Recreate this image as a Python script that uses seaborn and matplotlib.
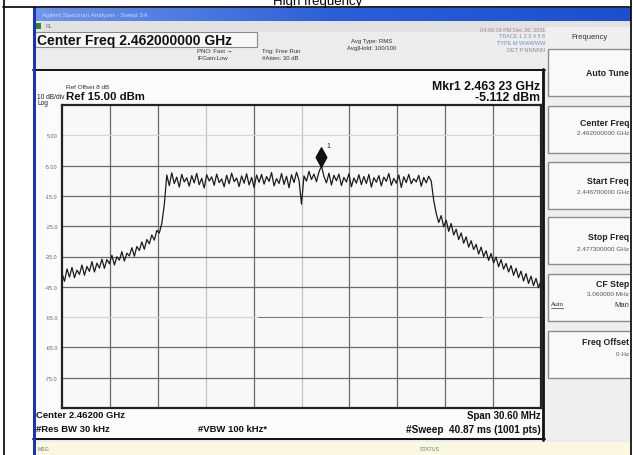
import numpy as np
import pandas as pd
import matplotlib
matplotlib.use("Agg")
import matplotlib.pyplot as plt
import matplotlib.transforms as mtransforms
from matplotlib.patches import Rectangle
from matplotlib.path import Path
import seaborn as sns

# ---- analyzer settings -------------------------------------------------
center_ghz = 2.462
span_mhz = 30.6
ref_dbm = 15.0
db_per_div = 10.0

# ---- trace (dBm), swept from start to stop frequency ---------------------
left_skirt = [
    -40.5, -43.2, -39.1, -41.8, -38.6, -42.0, -39.5, -40.9, -37.8, -41.2,
    -38.3, -39.9, -36.7, -40.1, -37.2, -38.8, -35.9, -38.9, -36.0, -37.4,
    -34.6, -37.8, -35.1, -36.2, -33.4, -36.5, -33.9, -34.8, -32.1, -34.9,
    -31.7, -33.0, -30.2, -32.6, -29.4, -30.8, -27.9, -29.6, -26.4, -27.3,
    -24.1,
]
rising_edge = [-18.0]
in_band = [
    -8.1, -11.6, -7.4, -10.9, -8.8, -12.1, -7.9, -10.4, -9.0, -11.8,
    -8.3, -10.7, -7.6, -11.3, -9.2, -12.4, -8.0, -10.1, -8.7, -11.5,
    -7.8, -10.6, -9.4, -12.0, -8.2, -11.0, -7.5, -10.3, -9.1, -11.9,
    -8.4, -10.8, -7.7, -11.4, -8.9, -12.2, -8.1, -10.5, -7.9, -11.1,
    -8.6, -10.2, -7.3, -11.7, -9.3, -10.9, -7.6, -11.2, -8.5, -12.3,
    -8.0, -10.6, -7.2, -9.8, -17.7, -8.4, -10.1, -6.9, -9.6, -7.8,
    -10.3, -7.1, -5.112, -8.6, -10.7, -7.5, -11.4, -8.2, -10.0, -7.8,
    -11.6, -8.9, -10.4, -7.7, -12.0, -9.1, -10.8, -8.0, -11.3, -8.6,
    -10.9, -7.9, -12.1, -9.0, -10.5, -8.3, -11.7, -8.8, -10.2, -7.6,
    -11.5, -9.2, -10.8, -8.1, -12.2, -8.7, -10.6, -7.9, -11.0, -9.3,
    -10.4, -8.2, -11.8, -8.9, -10.7, -8.5, -10.1,
]
falling_edge = [-16.5, -20.8]
right_skirt = [
    -23.8, -21.5, -25.2, -23.0, -26.7, -24.1, -27.9, -26.0, -29.4, -27.2,
    -30.6, -28.5, -31.9, -29.8, -32.7, -31.0, -34.2, -31.9, -35.0, -33.1,
    -36.3, -34.0, -37.1, -35.2, -38.4, -36.0, -39.2, -37.3, -40.1, -38.0,
    -41.2, -38.9, -42.0, -39.8, -43.1, -40.6, -43.9, -41.5, -44.6, -42.2,
    -45.3, -43.0,
]
trace_dbm = left_skirt + rising_edge + in_band + falling_edge + right_skirt

marker_ghz = 2.46323
marker_dbm = -5.112
display_line_dbm = -55.0
display_line_ghz = [2.45922, 2.47353]

y_tick_labels = ["5.00", "-5.00", "-15.0", "-25.0", "-35.0",
                 "-45.0", "-55.0", "-65.0", "-75.0"]

softkeys = [
    ("Auto Tune", ""),
    ("Center Freq", "2.462000000 GHz"),
    ("Start Freq", "2.446700000 GHz"),
    ("Stop Freq", "2.477300000 GHz"),
    ("CF Step", "3.060000 MHz"),
    ("Freq Offset", "0 Hz"),
]

# ---- figure -------------------------------------------------------------
sns.set_theme(style="white")
plt.rcParams["font.family"] = ["Liberation Sans", "DejaVu Sans"]

W, H = 633, 456
fig = plt.figure(figsize=(W / 100, H / 100), dpi=100)
fig.patch.set_facecolor("white")


def frac(x0, y0, x1, y1):
    """pixel box (top-left origin) -> figure fraction rect"""
    return [x0 / W, 1 - y1 / H, (x1 - x0) / W, (y1 - y0) / H]


bg = fig.add_axes([0, 0, 1, 1])
bg.set_xlim(0, W)
bg.set_ylim(H, 0)
bg.axis("off")


def box(x0, y0, x1, y1, fc, ec="none", lw=0.0, z=1):
    bg.add_patch(Rectangle((x0, y0), x1 - x0, y1 - y0, facecolor=fc,
                           edgecolor=ec, linewidth=lw, zorder=z))


def txt(x, y, s, size, ha="left", color="#111111", weight="normal", z=5, **kw):
    bg.text(x, y, s, fontsize=size, ha=ha, va="center", color=color,
            fontweight=weight, zorder=z, **kw)


# page table heading, running off the top edge of the page
fig.text(318 / W, 1 - 4.5 / H, "High frequency", ha="center", va="baseline",
         fontsize=9.5, color="black")

# instrument screen
box(33, 8, 631, 456, "#ececec")
grad = np.linspace(0, 1, 256).reshape(1, -1)
bg.imshow(grad, extent=(33, 631, 22, 9), aspect="auto",
          cmap=matplotlib.colors.LinearSegmentedColormap.from_list(
              "tb", ["#6f97ea", "#2a5fd8", "#1b4fd0"]), zorder=2)
txt(42, 15.5, "Agilent Spectrum Analyzer - Swept SA", 4.5, color="#c9d8f6", z=3)
box(33, 22, 631, 33, "#e2e2e2", z=2)
box(36, 24, 41, 30, "#2f8a2f", z=3)
txt(45, 27, "RL", 4, color="#777777")
box(33, 8, 36, 456, "#1832c2", z=4)

# header fields
box(35, 33, 257, 48, "#f7f7f7", ec="#8a8a8a", lw=0.8, z=2)
txt(37, 40.5, "Center Freq 2.462000000 GHz", 10, weight="bold")
txt(197, 51.5, "PNO: Fast \u2192", 4.3, color="#333333")
txt(197, 58, "IFGain:Low", 4.3, color="#333333")
txt(262, 51.5, "Trig: Free Run", 4.3, color="#333333")
txt(262, 58, "#Atten: 30 dB", 4.3, color="#333333")
txt(372, 42, "Avg Type: RMS", 4.3, ha="center", color="#333333")
txt(372, 48.5, "Avg|Hold: 100/100", 4.3, ha="center", color="#333333")
txt(545, 30, "04:09:16 PM Dec 26, 2011", 4, ha="right", color="#b07fa8")
txt(545, 37, "TRACE 1 2 3 4 5 6", 4, ha="right", color="#7d8fb0")
txt(545, 43.5, "TYPE M WWWWW", 4, ha="right", color="#6a8fd8")
txt(545, 50, "DET P NNNNN", 4, ha="right", color="#8d8d8d")

# graticule panel
box(36, 70, 543, 440, "#fbfbfb", z=2)
bg.plot([33, 545], [70.5, 70.5], color="#111111", lw=1.4, zorder=3)
bg.plot([543, 543], [70, 441], color="#111111", lw=2.0, zorder=3)
bg.plot([33, 545], [440.5, 440.5], color="#111111", lw=1.4, zorder=3)

txt(37, 97.5, "10 dB/div", 4.8, color="#222222")
txt(37, 104, "Log", 4.8, color="#222222")
txt(66, 87.5, "Ref Offset 8 dB", 4.6, color="#333333")
txt(66, 97.5, "Ref 15.00 dBm", 8.2, weight="bold")
txt(540, 86.5, f"Mkr1 {marker_ghz:.3f} {round(marker_ghz * 1e5) % 100:02d} GHz",
    8.8, ha="right", weight="bold")
txt(540, 98, f"{marker_dbm:.3f} dBm", 8.8, ha="right", weight="bold")

txt(36, 416, f"Center {center_ghz:.5f} GHz", 6.8, weight="bold")
txt(36, 430, "#Res BW 30 kHz", 6.8, weight="bold")
txt(232, 430, "#VBW 100 kHz*", 6.8, ha="center", weight="bold")
txt(541, 416, f"Span {span_mhz:.2f} MHz", 7.0, ha="right", weight="bold")
txt(541, 430, "#Sweep  40.87 ms (1001 pts)", 7.2, ha="right", weight="bold")

# status bar
box(36, 443, 631, 456, "#fbf8e2", z=2)
txt(38, 449.5, "MSG", 3.8, color="#777777")
txt(420, 449.5, "STATUS", 3.8, color="#777777")

# softkey panel
box(546, 28, 631, 441, "#efefef", z=2)
txt(590, 37.5, "Frequency", 5.5, ha="center", color="#333333")
keys = fig.add_axes(frac(546, 28, 630, 441))
keys.set_xlim(546, 630)
keys.set_ylim(441, 28)
keys.axis("off")
key_tops = [50, 107, 163, 218, 275, 332]
label_dy = [24, 16, 19, 20, 10, 11]
value_dy = [0, 27, 30, 32, 20, 23]
for (label, value), top, ldy, vdy in zip(softkeys, key_tops, label_dy, value_dy):
    keys.add_patch(Rectangle((548, top), 100, 47, facecolor="#f9f9f9",
                             edgecolor="#8c8c8c", linewidth=1.0))
    keys.text(629, top + ldy, label, fontsize=6.3, fontweight="bold", ha="right",
              va="center", color="#222222", clip_on=True)
    if value:
        keys.text(629, top + vdy, value, fontsize=4.6, ha="right", va="center",
                  color="#555555", clip_on=True)
keys.text(551, 305, "Auto", fontsize=4.6, ha="left", va="center",
          color="#333333", clip_on=True)
keys.plot([551, 563], [309, 309], color="#333333", lw=0.5)
keys.text(629, 306, "Man", fontsize=5.5, ha="right", va="center",
          color="#333333", clip_on=True)

# page table frame
bg.plot([3, 631], [8, 8], color="black", lw=1.2, zorder=6)
bg.plot([3.5, 3.5], [0, H], color="black", lw=1.2, zorder=6)
bg.plot([631, 631], [0, H], color="black", lw=1.2, zorder=6)

# ---- trace axes ----------------------------------------------------------
ax = fig.add_axes(frac(62, 106, 541, 409))
ax.set_facecolor("#f8f8f8")
f_start = center_ghz - span_mhz / 2000
f_stop = center_ghz + span_mhz / 2000
freq = np.linspace(f_start, f_stop, len(trace_dbm))
df = pd.DataFrame({"freq_ghz": freq, "level_dbm": trace_dbm})

ax.set_xlim(f_start, f_stop)
ax.set_ylim(ref_dbm - 10 * db_per_div, ref_dbm)

x_div = np.linspace(f_start, f_stop, 11)[1:-1]
y_div = ref_dbm - db_per_div * np.arange(1, 10)
faint_x = {2, 4}
for i, xv in enumerate(x_div):
    ax.axvline(xv, color="#c4c4c4" if i in faint_x else "#6a6a6a", lw=0.9, zorder=1)
for yv in y_div:
    faint = yv in (ref_dbm - db_per_div, display_line_dbm)
    ax.axhline(yv, color="#d6d6d6" if faint else "#6a6a6a", lw=0.9, zorder=1)
ax.plot(display_line_ghz, [display_line_dbm] * 2, color="#777777", lw=0.7, zorder=1)

sns.lineplot(data=df, x="freq_ghz", y="level_dbm", ax=ax, color="#1c1c1c",
             lw=0.9, estimator=None, sort=False, zorder=3)

diamond = Path([(0, 1), (0.55, 0), (0, -1), (-0.55, 0), (0, 1)],
               [Path.MOVETO, Path.LINETO, Path.LINETO, Path.LINETO, Path.CLOSEPOLY])
lift = mtransforms.offset_copy(ax.transData, fig=fig, x=0, y=9, units="dots")
ax.plot([marker_ghz], [marker_dbm], marker=diamond, markersize=14,
        color="#111111", transform=lift, zorder=4)
ax.text(marker_ghz, marker_dbm, "1", transform=mtransforms.offset_copy(
    ax.transData, fig=fig, x=6, y=19, units="dots"), fontsize=5, color="#222222")

ax.set_xticks([])
ax.set_yticks(y_div)
ax.set_yticklabels(y_tick_labels)
ax.tick_params(axis="y", length=0, pad=3, labelsize=4, labelcolor="#666666")
ax.set_xlabel("")
ax.set_ylabel("")
for s in ax.spines.values():
    s.set_color("#222222")
    s.set_linewidth(1.6)

fig.savefig("out.png", dpi=100)
